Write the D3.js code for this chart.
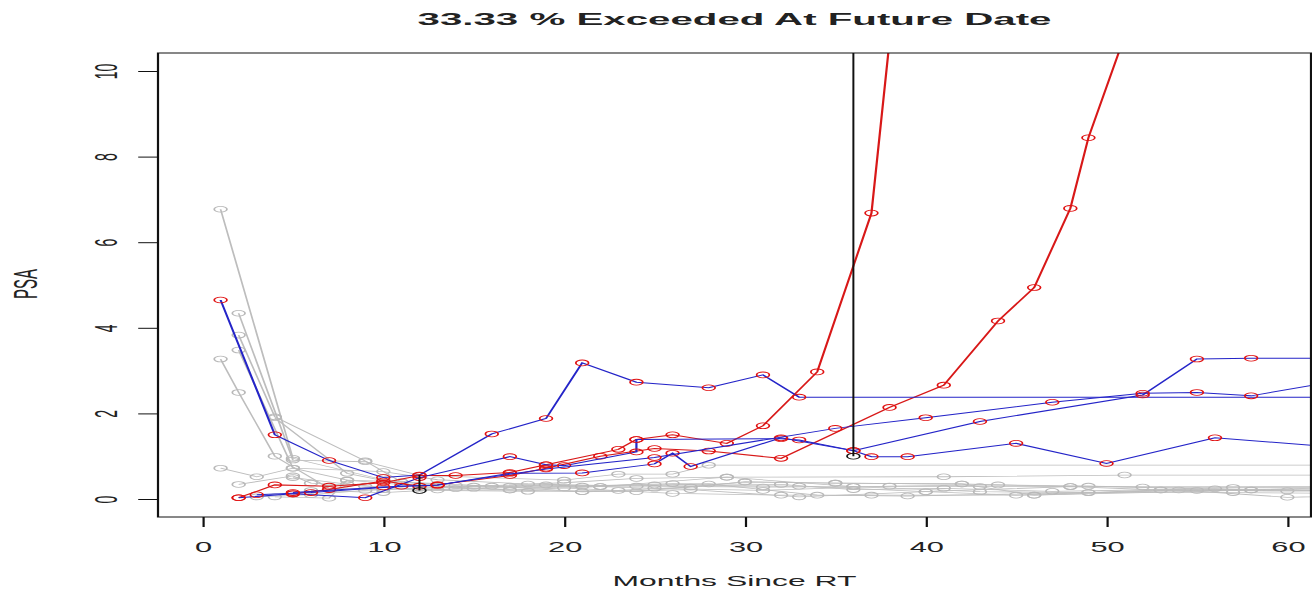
<!DOCTYPE html>
<html>
<head>
<meta charset="utf-8">
<script src="https://cdnjs.cloudflare.com/ajax/libs/d3/7.8.5/d3.min.js"></script>
<style>
  body { margin: 0; background: #fff; }
  text { font-family: "Liberation Sans", Arial, sans-serif; fill: #222; }
</style>
</head>
<body>
<div id="chart"></div>
<script>
// PSA trajectories, months since RT

var xTicks = [0, 10, 20, 30, 40, 50, 60];
var yTicks = [0, 2, 4, 6, 8, 10];

// background patients (grey)
var greySeries = [
  [[1,6.77],[5,0.95],[10,0.45],[13,0.3],[17,0.21],[21,0.17],[24,0.17],[30,0.4],[35,0.37],[42,0.35],[48,0.29],[57,0.27],[66,0.26]],
  [[2,4.34],[5,0.91],[9,0.87],[12,0.55],[20,0.44],[23,0.58],[26,0.58],[28,0.79],[70,0.79]],
  [[2,3.83],[4,1.92],[9,0.89],[11,0.4],[14,0.32],[22,0.29],[29,0.51],[41,0.52],[51,0.56],[70,0.56]],
  [[2,3.48],[5,0.72],[8,0.44],[12,0.3],[17,0.3],[25,0.33],[33,0.3],[40,0.17],[45,0.09],[53,0.21],[60,0.19],[66,0.2]],
  [[1,3.27],[2,2.49],[4,1.0],[7,0.25],[10,0.22],[15,0.3],[20,0.26],[26,0.13],[32,0.09],[37,0.09],[46,0.09],[54,0.21],[60,0.04],[66,0.1]],
  [[1,0.72],[3,0.52],[5,0.72],[10,0.64],[13,0.45],[18,0.35],[24,0.3],[31,0.28],[36,0.29],[43,0.29],[49,0.3],[58,0.21],[66,0.22]],
  [[2,0.34],[5,0.54],[6,0.37],[9,0.3],[13,0.21],[17,0.21],[22,0.29],[28,0.35],[34,0.09],[39,0.07],[49,0.15],[57,0.15],[66,0.12]],
  [[4,0.05],[7,0.02],[8,0.44],[11,0.4],[16,0.3],[21,0.17],[27,0.22],[33,0.05],[40,0.17],[48,0.29],[53,0.21],[66,0.25]],
  [[3,0.05],[6,0.1],[9,0.2],[12,0.25],[20,0.38],[24,0.48],[29,0.51],[36,0.29],[43,0.17],[49,0.15],[55,0.2],[66,0.18]],
  [[5,0.5],[8,0.35],[12,0.2],[18,0.18],[23,0.2],[27,0.28],[30,0.4],[35,0.37],[42,0.35],[46,0.09],[58,0.21],[66,0.3]],
  [[4,1.9],[8,0.6],[11,0.35],[15,0.25],[19,0.33],[25,0.25],[31,0.2],[38,0.3],[44,0.33],[52,0.28],[66,0.3]],
  [[6,0.2],[10,0.15],[14,0.24],[21,0.3],[26,0.36],[32,0.34],[36,0.22],[41,0.25],[47,0.18],[56,0.24],[66,0.16]]
];

// highlighted patients, blue lines
var blueSeries = [
  [[1,4.65],[4,1.5],[7,0.9],[10,0.5],[12,0.56],[16,1.52],[19,1.88],[21,3.18],[24,2.73],[28,2.6],[31,2.9],[33,2.38],[70,2.38]],
  [[2,0.03],[5,0.12],[9,0.03],[12,0.5],[17,0.99],[19,0.8],[20,0.78],[24,1.1],[24,1.39],[32,1.41],[33,1.38],[36,1.13],[37,0.99],[39,0.99],[45,1.3],[50,0.83],[56,1.43],[64,1.17]],
  [[3,0.1],[6,0.15],[11,0.3],[13,0.32],[17,0.6],[21,0.61],[25,0.82],[26,1.07],[27,0.76],[32,1.43],[36,1.13],[43,1.81],[52,2.43],[55,3.27],[58,3.29],[70,3.29]],
  [[5,0.15],[10,0.28],[13,0.33],[19,0.7],[25,0.97],[35,1.65],[40,1.9],[47,2.26],[52,2.47],[55,2.49],[58,2.41],[64,2.85]]
];

// highlighted patients, red lines
var redSeries = [
  [[2,0.03],[4,0.33],[7,0.3],[10,0.38],[12,0.55],[14,0.55],[17,0.62],[19,0.8],[23,1.16],[24,1.39],[26,1.5],[29,1.3],[31,1.71],[34,2.97],[37,6.68],[38,10.7]],
  [[5,0.12],[7,0.22],[10,0.42],[12,0.3],[13,0.33],[17,0.55],[19,0.72],[22,1.0],[25,1.18],[28,1.12],[32,0.95],[38,2.14],[41,2.66],[44,4.16],[46,4.94],[48,6.79],[49,8.44],[52,12.0]]
];

// the two evaluation times (month, psa at bottom, psa at top)
var markMonths = [12, 36];
var markLow = [0.2, 1.0];
var markHigh = [0.56, null];   // null = up to the top of the plot

var titleText = "33.33 % Exceeded At Future Date";

// the original figure is stretched sideways, so draw in a squeezed space
var sx = 2.2;
var W = 1312, H = 592;
var box = {left: 158 / sx, right: 1311 / sx, top: 53, bottom: 517};

var svg = d3.select("#chart").append("svg")
    .attr("width", W)
    .attr("height", H);

var g = svg.append("g").attr("transform", "scale(" + sx + ",1)");

var xScale = d3.scaleLinear().domain([0, 60]).range([202.5 / sx, 1287.3 / sx]);
var yScale = d3.scaleLinear().domain([0, 10]).range([499, 71]);

g.append("clipPath").attr("id", "plotclip")
  .append("rect")
    .attr("x", box.left).attr("y", box.top)
    .attr("width", box.right - box.left).attr("height", box.bottom - box.top);

var plot = g.append("g").attr("clip-path", "url(#plotclip)");

var line = d3.line()
    .x(function(d) { return xScale(d[0]); })
    .y(function(d) { return yScale(d[1]); });

function drawSeries(list, lineColor, dotColor, width) {
  list.forEach(function(s) {
    plot.append("path")
      .datum(s)
      .attr("d", line)
      .attr("fill", "none")
      .attr("stroke", lineColor)
      .attr("stroke-width", width);
    plot.selectAll(null)
      .data(s)
      .enter().append("circle")
      .attr("cx", function(d) { return xScale(d[0]); })
      .attr("cy", function(d) { return yScale(d[1]); })
      .attr("r", 2.9)
      .attr("fill", "none")
      .attr("stroke", dotColor)
      .attr("stroke-width", 0.8);
  });
}

drawSeries(greySeries, "#bdbdbd", "#b8b8b8", 0.8);
drawSeries(redSeries, "#d81818", "#e01010", 1.0);
drawSeries(blueSeries, "#2424c8", "#e01010", 1.0);

// black markers at the evaluation times
markMonths.forEach(function(m, i) {
  var hi = markHigh[i] === null ? yScale.invert(box.top) : markHigh[i];
  plot.append("line")
    .attr("x1", xScale(m)).attr("x2", xScale(m))
    .attr("y1", yScale(markLow[i])).attr("y2", yScale(hi))
    .attr("stroke", "#111")
    .attr("stroke-width", 0.9);
  plot.append("circle")
    .attr("cx", xScale(m))
    .attr("cy", yScale(markLow[i]))
    .attr("r", 2.9)
    .attr("fill", "none")
    .attr("stroke", "#111")
    .attr("stroke-width", 0.8);
});

// box
g.append("rect")
  .attr("x", box.left).attr("y", box.top)
  .attr("width", box.right - box.left).attr("height", box.bottom - box.top)
  .attr("fill", "none")
  .attr("stroke", "#111")
  .attr("stroke-width", 1);

// axes
var xAxis = d3.axisBottom(xScale).tickValues(xTicks).tickSize(10).tickPadding(15);
g.append("g")
  .attr("class", "axis xaxis")
  .attr("transform", "translate(0," + box.bottom + ")")
  .call(xAxis)
  .call(function(a) { a.select(".domain").remove(); })
  .call(function(a) {
    a.selectAll("line").attr("stroke", "#111");
    a.selectAll("text").attr("font-size", 14).attr("fill", "#222")
      .attr("font-family", "Liberation Sans, Arial, sans-serif");
  });

var yAxis = d3.axisLeft(yScale).tickValues(yTicks).tickSize(9);
g.append("g")
  .attr("class", "axis yaxis")
  .attr("transform", "translate(" + box.left + ",0)")
  .call(yAxis)
  .call(function(a) { a.select(".domain").remove(); })
  .call(function(a) {
    a.selectAll("line").attr("stroke", "#111");
    a.selectAll("text")
      .attr("x", 0).attr("y", 0).attr("dy", 0)
      .attr("text-anchor", "middle")
      .attr("font-size", 14).attr("fill", "#222")
      .attr("font-family", "Liberation Sans, Arial, sans-serif")
      .attr("transform", "translate(" + (117 / sx - box.left) + ",0) rotate(-90)");
  });

// labels
g.append("text")
  .attr("x", 734.5 / sx).attr("y", 25)
  .attr("text-anchor", "middle")
  .attr("font-size", 17)
  .attr("font-weight", "bold")
  .attr("textLength", 634 / sx)
  .attr("lengthAdjust", "spacingAndGlyphs")
  .text(titleText);

g.append("text")
  .attr("x", 734.5 / sx).attr("y", 586)
  .attr("text-anchor", "middle")
  .attr("font-size", 15)
  .attr("textLength", 244 / sx)
  .attr("lengthAdjust", "spacingAndGlyphs")
  .text("Months Since RT");

g.append("text")
  .attr("transform", "translate(" + (37 / sx) + ",284) rotate(-90)")
  .attr("text-anchor", "middle")
  .attr("font-size", 15)
  .text("PSA");
</script>
</body>
</html>
